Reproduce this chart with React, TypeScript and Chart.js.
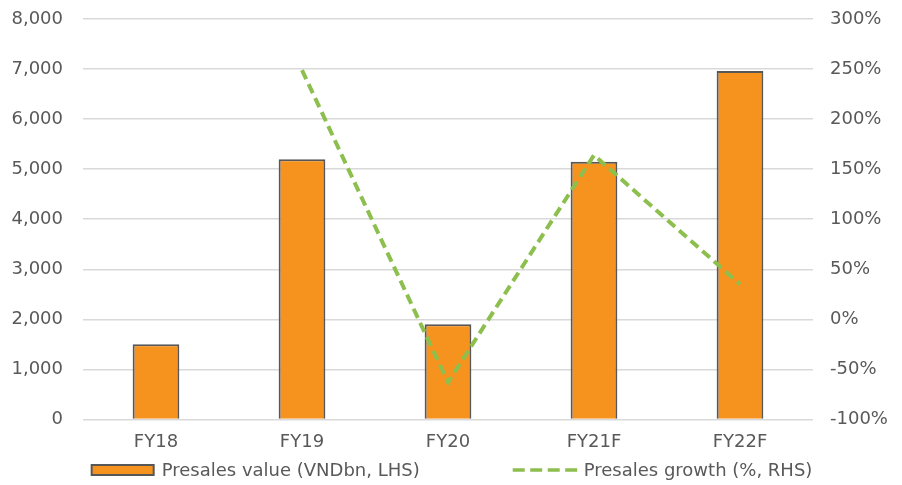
import React, { useEffect, useRef } from "react";
import { Chart, registerables } from "chart.js";

Chart.register(...registerables);

const categories = ["FY18", "FY19", "FY20", "FY21F", "FY22F"];
const presalesValue = [1500, 5200, 1900, 5150, 6960];
const presalesGrowth: (number | null)[] = [null, 249, -63, 164, 35];

const valueLabel = "Presales value (VNDbn, LHS)";
const growthLabel = "Presales growth (%, RHS)";

const ORANGE = "#F6931E";
const BORDER = "#575757";
const GREEN = "#8DBF4E";
const TEXT = "#595959";
const GRID = "#D9D9D9";
const FONT = "'DejaVu Sans', 'Liberation Sans', Arial, sans-serif";
const FONT_SIZE = 18;

// Bottom legend: a boxed swatch for the bars and a dashed stroke for the line.
const bottomLegend = {
  id: "bottomLegend",
  afterDraw(chart: any) {
    const ctx: CanvasRenderingContext2D = chart.ctx;
    ctx.save();
    ctx.font = `${FONT_SIZE}px ${FONT}`;
    ctx.textBaseline = "middle";
    ctx.textAlign = "left";
    const swatchW = 62;
    const lineW = 65;
    const gap = 93;
    const t1 = ctx.measureText(valueLabel).width;
    const t2 = ctx.measureText(growthLabel).width;
    const total = swatchW + 8 + t1 + gap + lineW + 6 + t2;
    let x = chart.width / 2 + 1 - total / 2;
    const y = chart.height - 15;

    ctx.fillStyle = ORANGE;
    ctx.strokeStyle = BORDER;
    ctx.lineWidth = 2;
    ctx.fillRect(x, y - 5, swatchW, 10);
    ctx.strokeRect(x, y - 5, swatchW, 10);
    x += swatchW + 8;
    ctx.fillStyle = TEXT;
    ctx.fillText(valueLabel, x, y + 1);
    x += t1 + gap;

    ctx.strokeStyle = GREEN;
    ctx.lineWidth = 3.5;
    ctx.setLineDash([12, 5.5]);
    ctx.beginPath();
    ctx.moveTo(x, y);
    ctx.lineTo(x + lineW, y);
    ctx.stroke();
    ctx.setLineDash([]);
    x += lineW + 6;
    ctx.fillStyle = TEXT;
    ctx.fillText(growthLabel, x, y + 1);
    ctx.restore();
  },
};

// Keep the plot top fixed regardless of tick label height.
const fitVertical = (width: number) => (scale: any) => {
  scale.width = width;
  scale.paddingTop = 19;
  scale.paddingBottom = 0;
};

export default function App() {
  const canvasRef = useRef<HTMLCanvasElement | null>(null);

  useEffect(() => {
    document.body.style.margin = "0";
    const canvas = canvasRef.current;
    if (!canvas) return;

    const chart = new Chart(canvas, {
      type: "bar",
      data: {
        labels: categories,
        datasets: [
          {
            type: "bar",
            label: valueLabel,
            data: presalesValue,
            backgroundColor: ORANGE,
            borderColor: BORDER,
            borderWidth: 2,
            categoryPercentage: 1,
            barPercentage: 0.32,
            yAxisID: "y",
            order: 2,
          },
          {
            type: "line",
            label: growthLabel,
            data: presalesGrowth,
            borderColor: GREEN,
            backgroundColor: GREEN,
            borderWidth: 4,
            borderDash: [10, 5.5],
            pointRadius: 0,
            pointHoverRadius: 0,
            fill: false,
            tension: 0,
            yAxisID: "y1",
            order: 1,
          },
        ],
      },
      options: {
        animation: false,
        responsive: false,
        layout: { padding: { top: 0, left: 0, right: 0, bottom: 20 } },
        scales: {
          x: {
            grid: { display: false, drawTicks: false },
            border: { display: false },
            ticks: {
              color: TEXT,
              font: { family: FONT, size: FONT_SIZE },
              padding: 12,
            },
          },
          y: {
            position: "left",
            min: 0,
            max: 8000,
            afterFit: fitVertical(83),
            grid: { color: GRID, lineWidth: 1.5, drawTicks: false },
            border: { display: false },
            ticks: {
              stepSize: 1000,
              color: TEXT,
              font: { family: FONT, size: FONT_SIZE },
              padding: 20,
              callback: (v: any) => Number(v).toLocaleString("en-US"),
            },
          },
          y1: {
            position: "right",
            min: -100,
            max: 300,
            afterFit: fitVertical(89),
            grid: { display: false, drawTicks: false },
            border: { display: false },
            ticks: {
              stepSize: 50,
              color: TEXT,
              font: { family: FONT, size: FONT_SIZE },
              padding: 17,
              callback: (v: any) => `${v}%`,
            },
          },
        },
        plugins: {
          tooltip: { enabled: false },
          legend: { display: false },
        },
      },
      plugins: [bottomLegend],
    });

    return () => chart.destroy();
  }, []);

  return (
    <div style={{ width: 902, height: 485, background: "#fff" }}>
      <canvas ref={canvasRef} width={902} height={485} />
    </div>
  );
}
